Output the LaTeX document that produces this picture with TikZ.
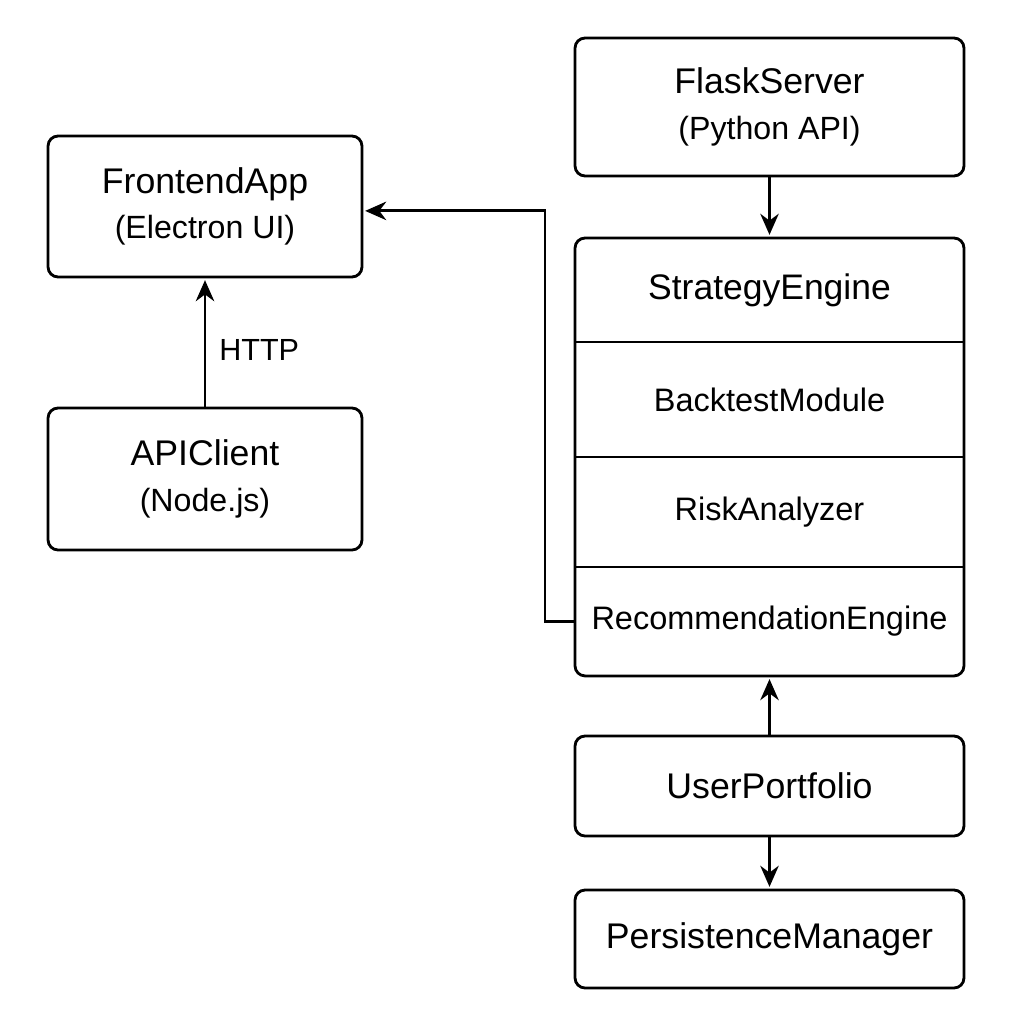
\documentclass[tikz,border=0pt]{standalone}
\usepackage{fontspec}
\setmainfont{Liberation Sans}
\usetikzlibrary{positioning,arrows.meta,shapes,fit}

\begin{document}
\begin{tikzpicture}[x=0.02cm,y=-0.02cm,->,>={Stealth[length=12pt,width=10.5pt]},shorten >=1pt,line width=1.6pt,
  main node/.style={rectangle,rounded corners=0.2cm,draw,align=center,font=\fontsize{20.3}{26}\selectfont},
  left node/.style={main node,minimum width=6.28cm},
  right node/.style={main node,minimum width=7.78cm},
  cell/.style={rectangle,minimum width=7.78cm,inner sep=0pt,outer sep=0pt,font=\fontsize{18.5}{22}\selectfont},
  divider/.style={-,shorten >=0pt}]
  \useasboundingbox (0,0) rectangle (1024,1024);

  % left column
  \node[left node,minimum height=2.82cm] (front) at (205,206.5) {FrontendApp\\{\fontsize{18.3}{26}\selectfont (Electron UI)}};
  \node[left node,minimum height=2.84cm] (api) at (205,479) {APIClient\\{\fontsize{18.3}{26}\selectfont (Node.js)}};

  % right column
  \node[right node,minimum height=2.76cm] (flask) at (769.5,107) {FlaskServer\\{\fontsize{18.3}{26}\selectfont (Python API)}};
  \node[cell,minimum height=2.08cm,font=\fontsize{20.2}{24}\selectfont] (strat) at (769.5,290) {StrategyEngine};
  \node[cell,minimum height=2.3cm] (back) [below=0pt of strat] {BacktestModule};
  \node[cell,minimum height=2.2cm] (risk) [below=0pt of back] {RiskAnalyzer};
  \node[cell,minimum height=2.18cm] (recom) [below=0pt of risk] {RecommendationEngine};
  \node[fit=(strat)(recom),draw,rounded corners=0.2cm,inner sep=0pt] (stack) {};
  \node[right node,minimum height=2cm] (user) at (769.5,786) {UserPortfolio};
  \node[right node,minimum height=1.96cm] (persist) at (769.5,939) {PersistenceManager};

  \draw[divider] (strat.south west) -- (strat.south east);
  \draw[divider] (back.south west) -- (back.south east);
  \draw[divider] (risk.south west) -- (risk.south east);

  \coordinate (turn) at (545,621);

  \draw (api) -- node[right=4pt,yshift=-4pt,font=\fontsize{17.4}{20}\selectfont] {HTTP} (front);
  \draw (flask) -- (stack);
  \draw (user) -- (stack);
  \draw (user) -- (persist);
  \draw (recom.west) -- (recom.west -| turn) |- ([yshift=-2.5]front.east);
\end{tikzpicture}
\end{document}
